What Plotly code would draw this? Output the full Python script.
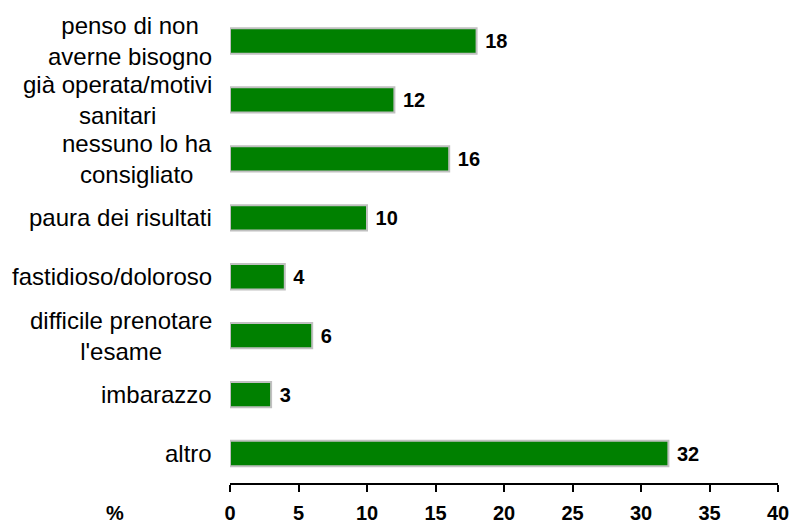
import plotly.graph_objects as go

categories = [
    "penso di non<br>averne bisogno",
    "già operata/motivi<br>sanitari",
    "nessuno lo ha<br>consigliato",
    "paura dei risultati",
    "fastidioso/doloroso",
    "difficile prenotare<br>l'esame",
    "imbarazzo",
    "altro",
]
values = [18, 12, 16, 10, 4, 6, 3, 32]
x_ticks = [0, 5, 10, 15, 20, 25, 30, 35, 40]
axis_unit = "%"

FONT = "Liberation Sans, Arial, sans-serif"

fig = go.Figure()
fig.add_trace(go.Bar(
    y=categories,
    x=values,
    orientation="h",
    width=0.43,
    marker=dict(color="#008000", line=dict(color="#c0c0c0", width=2)),
    text=[f" {v}" for v in values],
    textposition="outside",
    textfont=dict(family=FONT, size=20, color="black", weight="bold"),
    cliponaxis=False,
    hoverinfo="skip",
))

for c in categories:
    fig.add_annotation(
        x=0, xref="paper", y=c, yref="y",
        text=c, showarrow=False,
        xanchor="right", yanchor="middle", align="center",
        xshift=-16,
        font=dict(family=FONT, size=24, color="black"),
    )

fig.add_annotation(
    x=0, xref="paper", y=0, yref="paper",
    text=axis_unit, showarrow=False,
    xanchor="center", yanchor="middle",
    xshift=-115, yshift=-30,
    font=dict(family=FONT, size=20, color="black", weight="bold"),
)

fig.update_layout(
    width=791, height=523,
    margin=dict(l=230, r=13, t=10, b=40, autoexpand=False),
    paper_bgcolor="white", plot_bgcolor="white",
    showlegend=False,
)
fig.update_xaxes(
    range=[0, 40],
    tickvals=x_ticks,
    ticktext=[str(t) for t in x_ticks],
    showgrid=False, zeroline=False,
    showline=True, linecolor="black", linewidth=2,
    ticks="outside", ticklen=7, tickwidth=2, tickcolor="black",
    ticklabelstandoff=4,
    tickfont=dict(family=FONT, size=20, color="black", weight="bold"),
    fixedrange=True,
)
fig.update_yaxes(
    autorange="reversed",
    showticklabels=False, showgrid=False, zeroline=False,
    showline=False, ticks="",
    fixedrange=True,
)

fig.write_html(
    "out.html",
    config={"displayModeBar": False},
    post_script="document.body.style.margin='0';document.body.style.overflow='hidden';",
)
